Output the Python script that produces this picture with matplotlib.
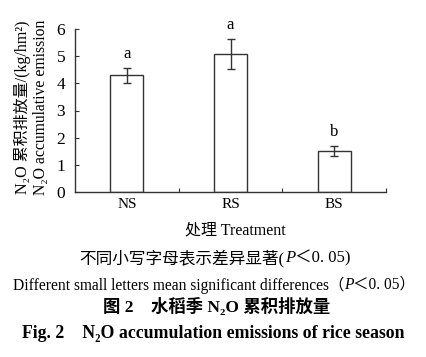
import matplotlib
matplotlib.use("Agg")
import matplotlib.pyplot as plt

categories = ["NS", "RS", "BS"]
values = [4.29, 5.08, 1.51]
errors = [0.29, 0.56, 0.19]
letters = ["a", "a", "b"]
yticks = [0, 1, 2, 3, 4, 5, 6]

W, H = 426, 357
fig = plt.figure(figsize=(W / 100, H / 100), dpi=100)
FAM = ["Liberation Serif", "Noto Sans CJK SC", "DejaVu Serif"]

def fx(px):
    return px / W

def fy(py):
    return 1 - py / H

ax = fig.add_axes([fx(75), fy(192), fx(386) - fx(75), fy(29) - fy(192)])
x = list(range(len(categories)))
ax.bar(x, values, width=0.32, color="white", edgecolor="#333333", linewidth=1.0,
       yerr=errors, error_kw=dict(ecolor="#333333", elinewidth=1.0, capsize=3, capthick=1.0))
for xi, v, e, l in zip(x, values, errors, letters):
    ax.text(xi, v + e + 0.2, l, ha="center", va="bottom", family=FAM, fontsize=12)

ax.set_xlim(-0.5, 2.5)
ax.set_ylim(0, 6)
ax.set_yticks(yticks)
ax.set_yticklabels([str(t) for t in yticks], family=FAM, fontsize=12.5)
ax.set_xticks([0.5, 1.5, 2.5])
ax.set_xticklabels(["", "", ""])
ax.set_xticks(x, minor=True)
ax.set_xticklabels(categories, minor=True, family=FAM, fontsize=11)
ax.tick_params(axis="x", which="minor", length=0, pad=4)
ax.tick_params(axis="x", which="major", direction="in", length=3, color="#333333")
ax.tick_params(axis="y", direction="in", length=3, color="#333333", pad=7)
for s in ["top", "right"]:
    ax.spines[s].set_visible(False)
for s in ["left", "bottom"]:
    ax.spines[s].set_color("#333333")
    ax.spines[s].set_linewidth(1.0)

fig.text(fx(22), fy(107), "N\u2082O 累积排放量/(kg/hm\u00b2)", rotation=90, ha="center", va="center",
         family=FAM, fontsize=11.5)
fig.text(fx(41), fy(107), "N\u2082O accumulative emission", rotation=90, ha="center", va="center",
         family=FAM, fontsize=11.3)

renderer = fig.canvas.get_renderer()

def pieces(cx, cy, parts, size, weight="normal"):
    objs = []
    for s, style in parts:
        t = fig.text(0, fy(cy), s, ha="left", va="center", family=FAM, fontsize=size,
                     fontweight=weight, fontstyle=style)
        objs.append(t)
    widths = [o.get_window_extent(renderer).width for o in objs]
    total = sum(widths)
    x0 = cx - total / 2
    for o, w in zip(objs, widths):
        o.set_x(fx(x0))
        x0 += w

pieces(235, 230, [("处理 Treatment", "normal")], 11.5)
pieces(215, 258, [("不同小写字母表示差异显著(", "normal"), ("P", "italic"), ("＜0. 05)", "normal")], 12)
pieces(214, 285, [("Different small letters mean significant differences（", "normal"), ("P", "italic"),
                  ("＜0. 05）", "normal")], 11.2)
pieces(217, 307, [("图 2    水稻季 N\u2082O 累积排放量", "normal")], 12.5, "bold")
pieces(213, 334, [("Fig. 2    N\u2082O accumulation emissions of rice season", "normal")], 12.8, "bold")

fig.savefig("out.png", dpi=100)
